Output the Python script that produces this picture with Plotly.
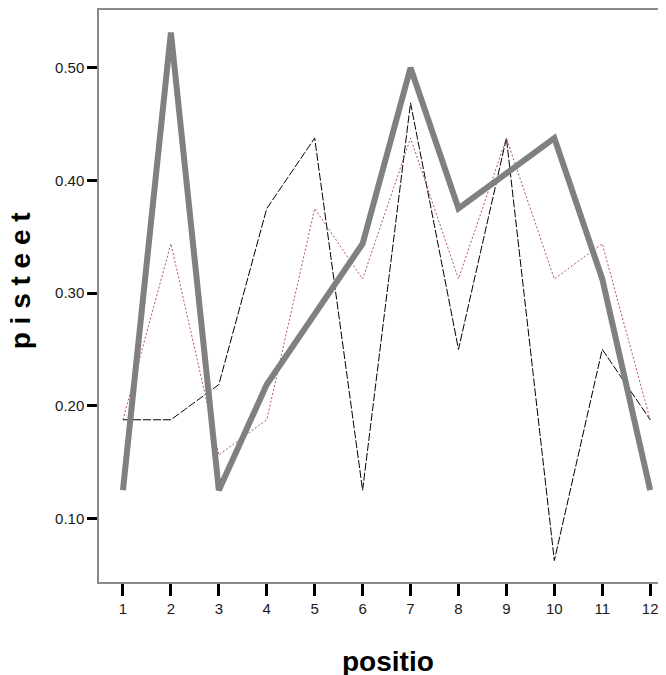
import plotly.graph_objects as go

positions = [1, 2, 3, 4, 5, 6, 7, 8, 9, 10, 11, 12]
series_gray = [0.125, 0.53125, 0.125, 0.21875, 0.28125, 0.34375, 0.5, 0.375, 0.40625, 0.4375, 0.3125, 0.125]
series_black = [0.1875, 0.1875, 0.21875, 0.375, 0.4375, 0.125, 0.46875, 0.25, 0.4375, 0.0625, 0.25, 0.1875]
series_red = [0.1875, 0.34375, 0.15625, 0.1875, 0.375, 0.3125, 0.4375, 0.3125, 0.4375, 0.3125, 0.34375, 0.1875]
y_ticks = [0.1, 0.2, 0.3, 0.4, 0.5]
x_title = "positio"
y_title = "p i s t e e t"

FONT = "Arial, Liberation Sans, sans-serif"

fig = go.Figure()
fig.add_trace(go.Scatter(x=positions, y=series_black, mode="lines",
                         line=dict(color="#000000", width=1, dash="8px,2px"),
                         showlegend=False))
fig.add_trace(go.Scatter(x=positions, y=series_red, mode="lines",
                         line=dict(color="#b05858", width=1, dash="2px,2px"),
                         showlegend=False))
fig.add_trace(go.Scatter(x=positions, y=series_gray, mode="lines",
                         line=dict(color="#808080", width=6),
                         showlegend=False))

fig.update_layout(
    width=658, height=667,
    margin=dict(l=91, r=0, t=0, b=93),
    paper_bgcolor="white", plot_bgcolor="white",
    font=dict(family=FONT, size=15, color="#1a1a1a"),
    xaxis=dict(range=[0.5, 12.33], tickvals=positions, ticktext=[str(p) for p in positions],
               showgrid=False, zeroline=False, showline=True, linecolor="#8a8a8a", linewidth=1.5,
               mirror=True, ticks="outside", ticklen=12, tickwidth=3, tickcolor="black",
               tickfont=dict(size=15, family=FONT)),
    yaxis=dict(range=[0.0435, 0.5512], tickvals=y_ticks, tickformat=".2f",
               showgrid=False, zeroline=False, showline=True, linecolor="#8a8a8a", linewidth=1.5,
               ticks="outside", ticklen=10, tickwidth=3, tickcolor="black",
               tickfont=dict(size=15, family=FONT)),
    annotations=[
        dict(text="<b>%s</b>" % x_title, xref="paper", yref="paper", x=0.51, y=-0.139,
             xanchor="center", yanchor="middle", showarrow=False,
             font=dict(size=28, family=FONT, color="black")),
        dict(text="<b>%s</b>" % y_title, xref="paper", yref="paper", x=-0.139, y=0.526,
             xanchor="center", yanchor="middle", showarrow=False, textangle=-90,
             font=dict(size=28, family=FONT, color="black")),
    ],
)

fig.write_html("out.html")
